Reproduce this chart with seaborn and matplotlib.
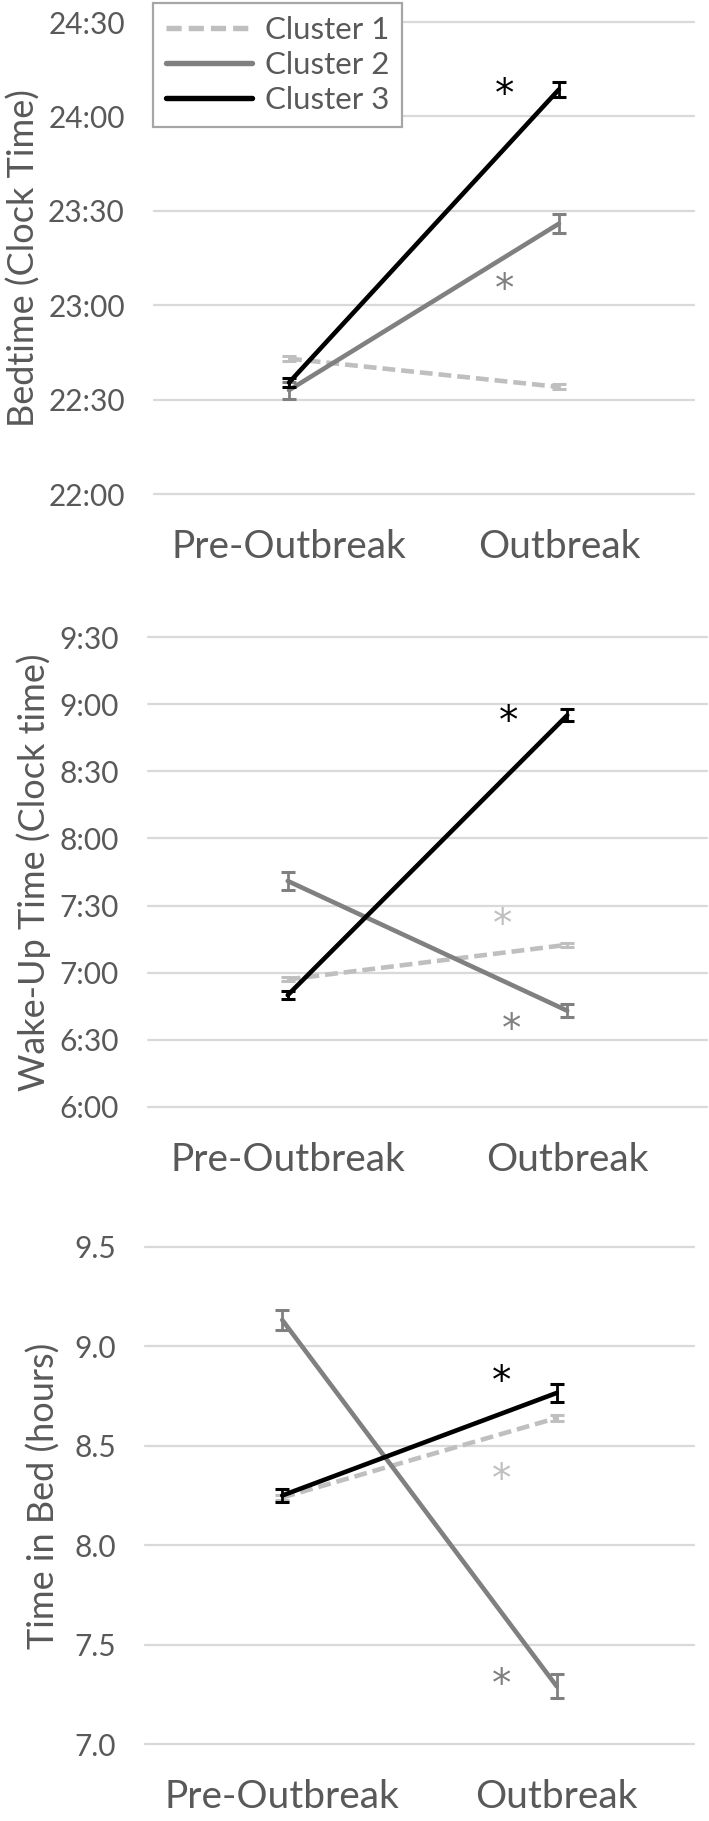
import numpy as np
import pandas as pd
import matplotlib
matplotlib.use("Agg")
import matplotlib.pyplot as plt
from matplotlib.lines import Line2D
import seaborn as sns

# ---------------- data ----------------
categories = ["Pre-Outbreak", "Outbreak"]
clusters = ["Cluster 1", "Cluster 2", "Cluster 3"]

# Bedtime (decimal clock hours)
bed_c1 = [22.717, 22.567]
bed_c2 = [22.550, 23.432]
bed_c3 = [22.590, 24.143]
bed_err_c1 = [0.015, 0.013]
bed_err_c2 = [0.045, 0.050]
bed_err_c3 = [0.025, 0.040]
bed_ticks = [22.0, 22.5, 23.0, 23.5, 24.0, 24.5]
bed_tick_labels = ["22:00", "22:30", "23:00", "23:30", "24:00", "24:30"]
bed_star_x = [0.80, 0.80]
bed_star_y = [24.15, 23.117]
bed_star_cluster = ["Cluster 3", "Cluster 2"]

# Wake-up time (decimal clock hours)
wake_c1 = [6.950, 7.208]
wake_c2 = [7.683, 6.717]
wake_c3 = [6.833, 8.917]
wake_err_c1 = [0.015, 0.015]
wake_err_c2 = [0.065, 0.050]
wake_err_c3 = [0.030, 0.045]
wake_ticks = [6.0, 6.5, 7.0, 7.5, 8.0, 8.5, 9.0, 9.5]
wake_tick_labels = ["6:00", "6:30", "7:00", "7:30", "8:00", "8:30", "9:00", "9:30"]
wake_star_x = [0.79, 0.77, 0.80]
wake_star_y = [8.917, 7.407, 6.623]
wake_star_cluster = ["Cluster 3", "Cluster 1", "Cluster 2"]

# Time in bed (hours)
tib_c1 = [8.240, 8.640]
tib_c2 = [9.133, 7.290]
tib_c3 = [8.250, 8.766]
tib_err_c1 = [0.015, 0.015]
tib_err_c2 = [0.052, 0.060]
tib_err_c3 = [0.035, 0.047]
tib_ticks = [7.0, 7.5, 8.0, 8.5, 9.0, 9.5]
tib_tick_labels = ["7.0", "7.5", "8.0", "8.5", "9.0", "9.5"]
tib_star_x = [0.80, 0.80, 0.80]
tib_star_y = [8.857, 8.365, 7.334]
tib_star_cluster = ["Cluster 3", "Cluster 1", "Cluster 2"]

# ---------------- style ----------------
sns.set_theme(style="white")
plt.rcParams["font.family"] = ["Lato", "DejaVu Sans"]

TXT = "#595959"
GRID = "#D9D9D9"
palette = {"Cluster 1": "#BFBFBF", "Cluster 2": "#808080", "Cluster 3": "#000000"}
dashes = {"Cluster 1": (2.8, 1.3), "Cluster 2": "", "Cluster 3": ""}
LW = 3.3

W, H = 709, 1821
fig = plt.figure(figsize=(W / 100, H / 100), dpi=100)


def make_axes(left, right, top, bottom):
    return fig.add_axes([left / W, 1 - bottom / H, (right - left) / W, (bottom - top) / H])


panels = [
    dict(box=(154, 694, 22, 494), vals=[bed_c1, bed_c2, bed_c3],
         errs=[bed_err_c1, bed_err_c2, bed_err_c3], ticks=bed_ticks,
         tlabels=bed_tick_labels, ylabel="Bedtime (Clock Time)", ylab_x=24,
         sx=bed_star_x, sy=bed_star_y, sc=bed_star_cluster),
    dict(box=(148, 707, 637, 1107), vals=[wake_c1, wake_c2, wake_c3],
         errs=[wake_err_c1, wake_err_c2, wake_err_c3], ticks=wake_ticks,
         tlabels=wake_tick_labels, ylabel="Wake-Up Time (Clock time)", ylab_x=34,
         sx=wake_star_x, sy=wake_star_y, sc=wake_star_cluster),
    dict(box=(145, 694, 1247, 1744), vals=[tib_c1, tib_c2, tib_c3],
         errs=[tib_err_c1, tib_err_c2, tib_err_c3], ticks=tib_ticks,
         tlabels=tib_tick_labels, ylabel="Time in Bed (hours)", ylab_x=44,
         sx=tib_star_x, sy=tib_star_y, sc=tib_star_cluster),
]

xpos = [0, 1]
axes = []
for p in panels:
    left, right, top, bottom = p["box"]
    ax = make_axes(left, right, top, bottom)
    axes.append(ax)
    df = pd.DataFrame({
        "x": xpos * 3,
        "value": p["vals"][0] + p["vals"][1] + p["vals"][2],
        "cluster": [c for c in clusters for _ in xpos],
    })
    sns.lineplot(data=df, x="x", y="value", hue="cluster", style="cluster",
                 palette=palette, dashes=dashes, linewidth=LW, legend=False,
                 ax=ax, sort=False)
    for i, c in enumerate(clusters):
        ax.lines[i].set_zorder(3 + i)
        ax.errorbar(xpos, p["vals"][i], yerr=p["errs"][i], fmt="none",
                    ecolor=palette[c], elinewidth=2.0, capsize=5, capthick=2.2,
                    zorder=3.5 + i)
    # significance asterisks
    for x, y, c in zip(p["sx"], p["sy"], p["sc"]):
        ax.annotate("*", (x, y), xytext=(0, -5), textcoords="offset points",
                    ha="center", va="center", fontsize=28, color=palette[c],
                    family=["DejaVu Sans"], zorder=8)

    ax.set_xlim(-0.5, 1.5)
    ax.set_ylim(p["ticks"][0], p["ticks"][-1])
    ax.set_xticks(xpos)
    ax.set_xticklabels(categories, fontsize=28, color=TXT)
    ax.set_yticks(p["ticks"])
    ax.set_yticklabels(p["tlabels"], fontsize=21.5, color=TXT)
    ax.tick_params(axis="x", length=0, pad=25)
    ax.tick_params(axis="y", length=0, pad=21)
    ax.set_xlabel("")
    ax.set_ylabel(p["ylabel"], fontsize=26, color=TXT)
    ax.yaxis.label.set_verticalalignment("center")
    ax.yaxis.set_label_coords((p["ylab_x"] - left) / (right - left), 0.5)
    ax.grid(axis="y", color=GRID, linewidth=1.6)
    ax.grid(axis="x", visible=False)
    for gl in ax.get_ygridlines():
        gl.set_clip_on(False)
    ax.set_axisbelow(True)
    sns.despine(ax=ax, left=True, bottom=True, top=True, right=True)

# legend on first panel
handles = []
for c in clusters:
    h = Line2D([0], [0], color=palette[c], linewidth=LW + 0.6)
    if dashes[c]:
        h.set_dashes(dashes[c])
    handles.append(h)
leg = axes[0].legend(handles, clusters, loc="upper left",
                     bbox_to_anchor=(153 / W, 1 - 3 / H),
                     bbox_transform=fig.transFigure, frameon=True,
                     fancybox=False, edgecolor="#A6A6A6", fontsize=22.5,
                     handlelength=2.75, handletextpad=0.4, labelspacing=0.22,
                     borderpad=0.42, borderaxespad=0, framealpha=1)
leg.get_frame().set_linewidth(1.6)
for t in leg.get_texts():
    t.set_color(TXT)

fig.savefig("out.png", dpi=100, facecolor="white")
